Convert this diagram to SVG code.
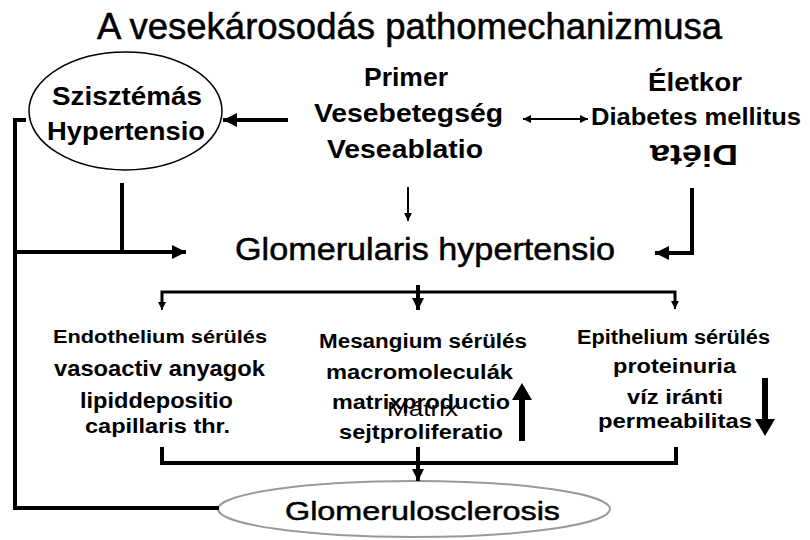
<svg xmlns="http://www.w3.org/2000/svg" width="810" height="540" viewBox="0 0 810 540">
<defs>
<style>
text{font-family:"Liberation Sans",Arial,sans-serif;fill:#000}
.b{font-weight:bold}
.n{font-weight:normal;stroke:#000;stroke-width:0.5}
.m{font-weight:normal}
.thick{fill:none;stroke:#000;stroke-width:4}
.mid{fill:none;stroke:#000;stroke-width:3}
.thin{fill:none;stroke:#000;stroke-width:2}
</style>
<marker id="hBig" markerUnits="userSpaceOnUse" markerWidth="16" markerHeight="16" refX="14" refY="7" orient="auto"><path d="M0,0 L14,7 L0,14 Z" fill="#000"/></marker>
<marker id="hMid" markerUnits="userSpaceOnUse" markerWidth="14" markerHeight="14" refX="12" refY="6" orient="auto"><path d="M0,0 L12,6 L0,12 Z" fill="#000"/></marker>
<marker id="hSm" markerUnits="userSpaceOnUse" markerWidth="10" markerHeight="10" refX="8" refY="4" orient="auto"><path d="M0,0 L8,4 L0,8 Z" fill="#000"/></marker>
<marker id="hSmS" markerUnits="userSpaceOnUse" markerWidth="10" markerHeight="10" refX="0" refY="4" orient="auto"><path d="M8,0 L0,4 L8,8 Z" fill="#000"/></marker>
</defs>
<rect width="810" height="540" fill="#fff"/>

<g id="title"><text x="97" y="39" font-size="36" class="n" textLength="625" lengthAdjust="spacingAndGlyphs">A vesekárosodás pathomechanizmusa</text></g>

<g id="szisztemas">
<ellipse cx="125.5" cy="111" rx="96.5" ry="59" fill="#fff" stroke="#000" stroke-width="1.5"/>
<text x="52" y="105" font-size="26" class="b" textLength="150" lengthAdjust="spacingAndGlyphs">Szisztémás</text>
<text x="47" y="140" font-size="26" class="b" textLength="158" lengthAdjust="spacingAndGlyphs">Hypertensio</text>
</g>

<g id="primer">
<text x="364" y="86" font-size="25" class="b" textLength="84" lengthAdjust="spacingAndGlyphs">Primer</text>
<text x="314" y="122" font-size="25" class="b" textLength="189" lengthAdjust="spacingAndGlyphs">Vesebetegség</text>
<text x="327" y="158" font-size="25" class="b" textLength="156" lengthAdjust="spacingAndGlyphs">Veseablatio</text>
</g>

<g id="eletkor">
<text x="648" y="91" font-size="26" class="b" textLength="94" lengthAdjust="spacingAndGlyphs">Életkor</text>
<text x="591" y="125" font-size="23" class="b" textLength="210" lengthAdjust="spacingAndGlyphs">Diabetes mellitus</text>
<text x="0" y="0" font-size="29" class="b" textLength="88" lengthAdjust="spacingAndGlyphs" transform="translate(738,145) rotate(180)">Diéta</text>
</g>

<g id="glomhyp"><text x="235" y="260" font-size="31" class="n" textLength="380" lengthAdjust="spacingAndGlyphs">Glomerularis hypertensio</text></g>

<g id="endothelium">
<text x="53" y="343" font-size="19" class="b" textLength="214" lengthAdjust="spacingAndGlyphs">Endothelium sérülés</text>
<text x="54" y="376" font-size="22" class="b" textLength="211" lengthAdjust="spacingAndGlyphs">vasoactiv anyagok</text>
<text x="80" y="408" font-size="22" class="b" textLength="153" lengthAdjust="spacingAndGlyphs">lipiddepositio</text>
<text x="85" y="433" font-size="21" class="b" textLength="145" lengthAdjust="spacingAndGlyphs">capillaris thr.</text>
</g>

<g id="mesangium">
<text x="319" y="348" font-size="20" class="b" textLength="208" lengthAdjust="spacingAndGlyphs">Mesangium sérülés</text>
<text x="326" y="379" font-size="21" class="b" textLength="187" lengthAdjust="spacingAndGlyphs">macromoleculák</text>
<text x="332" y="409" font-size="21" class="b" textLength="178" lengthAdjust="spacingAndGlyphs">matrixproductio</text>
<text x="387" y="416" font-size="21" class="m" textLength="71" lengthAdjust="spacingAndGlyphs">Mátrix</text>
<text x="339" y="439" font-size="21" class="b" textLength="164" lengthAdjust="spacingAndGlyphs">sejtproliferatio</text>
</g>

<g id="epithelium">
<text x="577" y="344" font-size="20" class="b" textLength="193" lengthAdjust="spacingAndGlyphs">Epithelium sérülés</text>
<text x="613" y="373" font-size="21" class="b" textLength="123" lengthAdjust="spacingAndGlyphs">proteinuria</text>
<text x="627" y="404" font-size="21" class="b" textLength="96" lengthAdjust="spacingAndGlyphs">víz iránti</text>
<text x="598" y="428" font-size="20" class="b" textLength="154" lengthAdjust="spacingAndGlyphs">permeabilitas</text>
</g>

<g id="glomerulosclerosis">
<ellipse cx="414" cy="509" rx="196" ry="28" fill="#fff" stroke="#999" stroke-width="2"/>
<text x="285" y="520" font-size="26" class="n" textLength="275" lengthAdjust="spacingAndGlyphs">Glomerulosclerosis</text>
</g>

<g id="connectors">
<path class="thick" d="M288,120 H223" marker-end="url(#hBig)"/>
<path class="thin" d="M523,119 H588" marker-end="url(#hSm)" marker-start="url(#hSmS)"/>
<path class="thick" d="M26,120 H15 V508 H219"/>
<path class="thick" d="M122,183 V252"/>
<path class="thick" d="M15,252 H186" marker-end="url(#hBig)"/>
<path class="thin" d="M408,187 V221" marker-end="url(#hSm)"/>
<path class="thick" d="M692,188 V253 H655" marker-end="url(#hBig)"/>
<path class="mid" d="M162,302 V292 H675 V302"/>
<path class="thin" d="M162,300 V310" marker-end="url(#hSm)"/>
<path class="thin" d="M675,300 V309" marker-end="url(#hSm)"/>
<path class="thick" d="M418,285 V310" marker-end="url(#hMid)"/>
<path class="thick" d="M162,447 V463 H676 V447"/>
<path class="thick" d="M418,447 V481" marker-end="url(#hMid)"/>
<path d="M519,441 V400 H512 L522,383 L532,400 H525 V441 Z" fill="#000"/>
<path d="M762,378 V419 H755 L765,436 L775,419 H768 V378 Z" fill="#000"/>
</g>
</svg>
